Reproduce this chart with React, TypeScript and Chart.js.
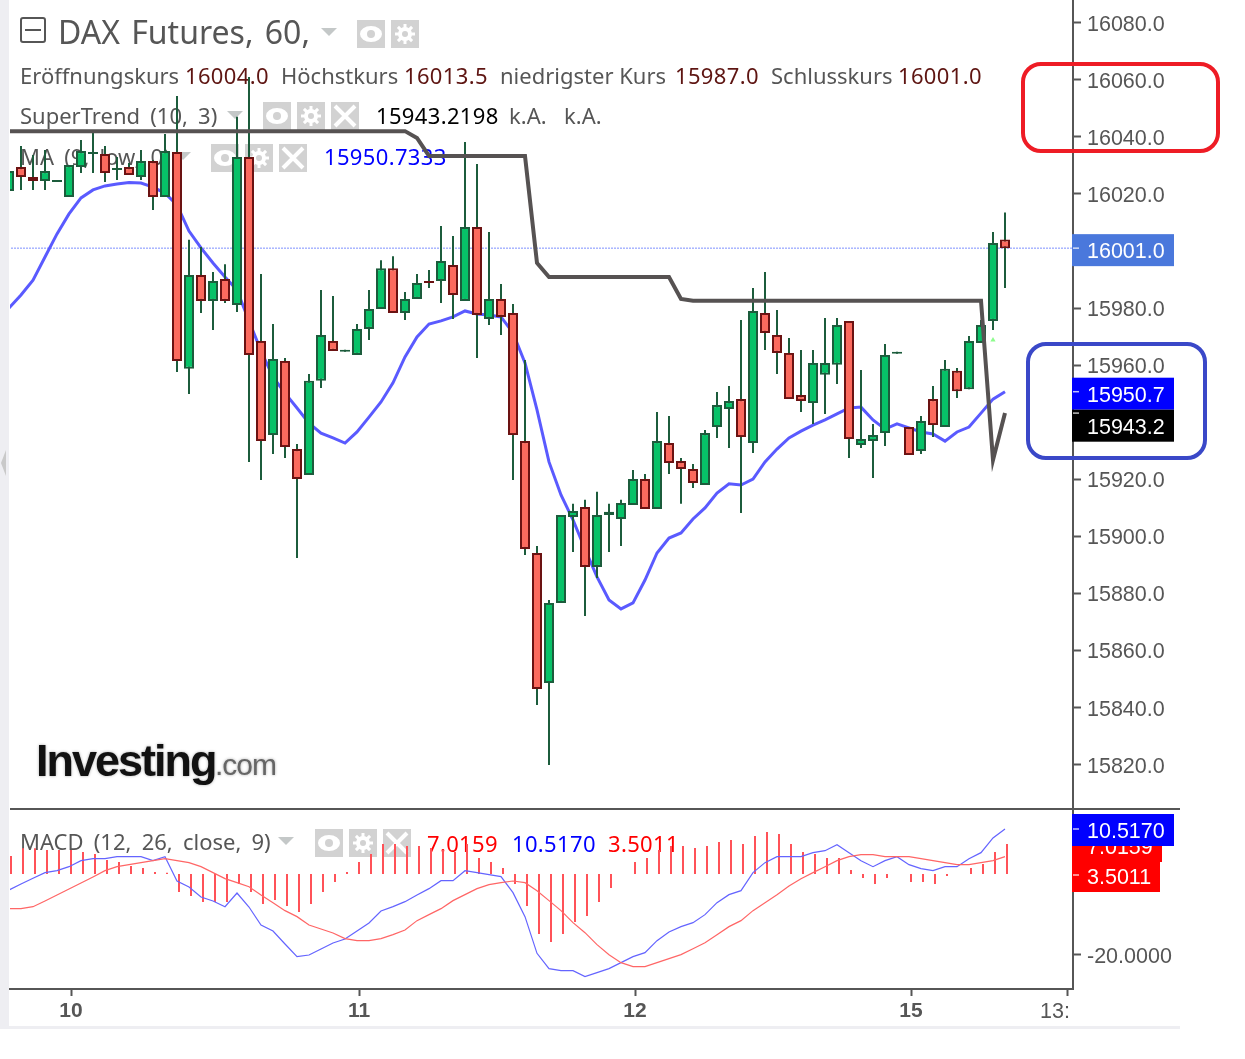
import { useEffect, useRef } from "react";
import { Chart, registerables } from "chart.js";

Chart.register(...registerables);

// candle values
const opens = [
  16021.0, 16029.4, 16025.9, 16024.5, 16024.2, 16018.9, 16029.4, 16034.0, 16034.0, 16028.4,
  16029.4, 16025.9, 16031.5, 16018.9, 16034.7, 15958.7, 15991.6, 15982.5, 15990.2, 15981.1,
  16032.9, 15968.5, 15935.5, 15961.5, 15930.6, 15921.5, 15954.5, 15968.5, 15964.7, 15963.6,
  15972.7, 15979.7, 15994.0, 15978.3, 15983.2, 15989.5, 15989.5, 15995.1, 15982.5, 16008.4,
  15976.2, 15983.2, 15978.3, 15933.4, 15894.2, 15848.6, 15876.7, 15906.8, 15910.3, 15889.3,
  15907.5, 15906.1, 15911.0, 15920.1, 15909.6, 15932.7, 15926.4, 15923.6, 15918.0, 15938.3,
  15944.6, 15948.1, 15932.7, 15978.3, 15970.6, 15964.3, 15949.5, 15946.7, 15956.6, 15960.1,
  15975.5, 15932.0, 15933.4, 15936.2, 15964.0, 15938.3, 15929.9, 15948.1, 15938.3, 15958.0,
  15951.6, 15967.8, 15975.5, 16004.0,
];
const highs = [
  16029.1, 16036.8, 16033.6, 16035.4, 16024.9, 16030.1, 16038.9, 16042.0, 16036.8, 16032.9,
  16030.8, 16035.4, 16031.9, 16041.0, 16054.3, 16003.9, 16001.4, 15992.6, 15995.4, 16047.0,
  16061.0, 15991.9, 15974.4, 15962.5, 15932.4, 15956.9, 15986.3, 15984.2, 15965.4, 15974.4,
  15986.3, 15996.8, 15998.2, 15985.6, 15991.9, 15993.3, 16008.8, 16005.3, 16038.2, 16030.5,
  16006.7, 15988.4, 15981.4, 15961.8, 15896.6, 15877.7, 15907.5, 15911.4, 15912.8, 15915.6,
  15911.4, 15912.8, 15923.3, 15921.9, 15943.6, 15942.2, 15927.5, 15925.4, 15937.3, 15950.6,
  15952.7, 15975.8, 15987.0, 15992.6, 15979.3, 15969.5, 15965.3, 15965.3, 15976.5, 15976.5,
  15975.5, 15958.3, 15939.4, 15967.4, 15964.7, 15938.3, 15942.2, 15952.7, 15961.8, 15959.0,
  15970.2, 15975.8, 16006.7, 16013.5,
];
const lows = [
  16020.3, 16021.4, 16021.4, 16021.4, 16024.2, 16018.9, 16027.3, 16027.3, 16024.2, 16024.9,
  16026.6, 16024.9, 16014.4, 16018.9, 15957.6, 15949.9, 15978.3, 15972.3, 15981.8, 15978.6,
  15926.1, 15919.8, 15928.9, 15927.5, 15892.4, 15921.5, 15952.0, 15965.0, 15964.7, 15963.6,
  15968.8, 15979.7, 15978.3, 15975.8, 15983.2, 15987.0, 15981.8, 15976.2, 15982.5, 15962.5,
  15974.1, 15970.6, 15919.8, 15893.5, 15840.9, 15819.9, 15876.7, 15894.5, 15872.1, 15885.4,
  15894.5, 15896.6, 15911.0, 15909.6, 15909.6, 15921.9, 15911.4, 15917.0, 15918.0, 15934.5,
  15931.0, 15908.2, 15929.2, 15965.3, 15956.9, 15948.1, 15943.6, 15939.4, 15942.9, 15953.4,
  15927.5, 15931.0, 15920.5, 15931.7, 15964.0, 15928.5, 15928.9, 15934.8, 15938.3, 15948.5,
  15951.6, 15967.8, 15972.3, 15987.0,
];
const closes = [
  16028.0, 16025.9, 16024.5, 16028.0, 16024.9, 16030.1, 16035.0, 16034.7, 16027.3, 16029.1,
  16026.6, 16031.5, 16018.9, 16035.0, 15961.5, 15991.6, 15982.5, 15989.5, 15982.5, 16032.9,
  15963.6, 15933.4, 15962.2, 15931.3, 15920.1, 15954.5, 15970.6, 15965.0, 15965.4, 15972.7,
  15979.7, 15994.0, 15978.3, 15983.2, 15988.8, 15988.8, 15996.5, 15984.6, 16008.4, 15977.6,
  15983.2, 15976.9, 15935.5, 15895.6, 15846.5, 15876.7, 15907.5, 15908.9, 15889.3, 15907.5,
  15908.6, 15911.7, 15920.1, 15909.6, 15933.4, 15925.7, 15923.6, 15918.7, 15936.2, 15946.0,
  15947.4, 15934.8, 15979.0, 15971.3, 15964.3, 15948.1, 15947.4, 15960.8, 15960.8, 15974.1,
  15934.1, 15934.1, 15935.5, 15963.6, 15964.7, 15928.5, 15940.4, 15939.0, 15958.7, 15950.9,
  15968.5, 15974.1, 16002.8, 16001.0,
];
const maLine = [
  15980.0, 15984.6, 15989.8, 15997.9, 16006.0, 16013.0, 16018.6, 16021.4, 16022.8, 16023.5,
  16024.0, 16023.8, 16022.4, 16020.3, 16016.1, 16007.0, 16001.1, 15995.8, 15990.9, 15986.3,
  15975.5, 15965.0, 15955.9, 15950.2, 15945.0, 15939.7, 15936.2, 15934.5, 15932.7, 15936.6,
  15941.8, 15947.1, 15953.8, 15962.9, 15969.9, 15974.4, 15975.5, 15976.9, 15979.0, 15977.9,
  15977.6, 15976.9, 15971.3, 15960.8, 15944.3, 15926.1, 15914.5, 15905.8, 15895.6, 15885.8,
  15877.7, 15874.6, 15876.7, 15884.7, 15894.2, 15899.4, 15901.2, 15906.1, 15910.0, 15915.2,
  15918.4, 15918.0, 15920.1, 15926.1, 15930.6, 15934.5, 15936.9, 15939.0, 15940.8, 15942.9,
  15945.0, 15945.3, 15940.8, 15937.6, 15939.4, 15938.0, 15936.6, 15935.9, 15933.4, 15936.6,
  15938.3, 15943.2, 15948.1, 15950.7,
];
const superTrend = [
  16042, 16042, 16042, 16042, 16042, 16042, 16042, 16042, 16042, 16042,
  16042, 16042, 16042, 16042, 16042, 16042, 16042, 16042, 16042, 16042,
  16042, 16042, 16042, 16042, 16042, 16042, 16042, 16042, 16042, 16042,
  16042, 16042, 16042, 16042, 16039.6, 16033.3, 16033.3, 16033.3, 16033.3, 16033.3,
  16033.3, 16033.3, 16033.3, 16033.3, 15995.8, 15990.9, 15990.9, 15990.9, 15990.9, 15990.9,
  15990.9, 15990.9, 15990.9, 15990.9, 15990.9, 15990.9, 15983.2, 15982.6, 15982.6, 15982.6,
  15982.6, 15982.6, 15982.6, 15982.6, 15982.6, 15982.6, 15982.6, 15982.6, 15982.6, 15982.6,
  15982.6, 15982.6, 15982.6, 15982.6, 15982.6, 15982.6, 15982.6, 15982.6, 15982.6, 15982.6,
  15982.6, 15982.6, 15926.8, 15943.2,
];
const macdLine = [
  -3.95, -2.47, -1.07, 0.33, 0.82, 1.81, 3.29, 3.79, 3.79, 4.28,
  4.28, 4.28, 3.29, 4.28, -1.73, -3.21, -5.68, -6.67, -8.07, -4.69,
  -8.15, -12.59, -14.07, -17.28, -20.41, -20.0, -18.52, -17.04, -16.05, -14.07,
  -12.1, -9.14, -8.07, -6.83, -5.19, -3.62, -1.65, -1.65, 0.82, 0.33,
  -0.16, -0.66, -4.61, -10.53, -19.59, -23.37, -23.87, -23.87, -25.35, -24.36,
  -23.37, -21.89, -20.41, -19.42, -16.46, -14.32, -13.0, -12.02, -10.04, -7.08,
  -5.1, -4.12, 0.33, 2.8, 4.28, 4.28, 4.28, 5.27, 5.76, 7.24,
  5.27, 3.29, 1.81, 3.29, 4.28, 2.3, 1.32, 0.82, 1.81, 1.81,
  3.79, 5.27, 8.89, 11.11,
];
const signalLine = [
  -8.56, -8.56, -8.07, -6.67, -5.19, -3.7, -2.22, -0.74, 0.82, 1.81,
  2.3, 2.8, 3.29, 3.79, 3.29, 2.8, 1.81, 0.33, -1.15, -2.14,
  -3.13, -5.19, -7.08, -9.05, -10.53, -12.59, -13.58, -14.57, -15.97, -16.46,
  -16.46, -15.97, -14.98, -13.83, -11.52, -10.04, -8.56, -6.58, -5.1, -3.62,
  -2.63, -2.14, -1.73, -2.14, -4.12, -6.58, -9.05, -12.02, -14.49, -17.45,
  -19.92, -21.89, -22.88, -22.88, -21.89, -20.91, -19.92, -18.44, -16.96, -14.98,
  -13.0, -11.52, -9.05, -7.08, -5.1, -2.96, -1.15, 0.33, 1.81, 3.29,
  4.28, 4.77, 4.77, 4.28, 4.28, 4.28, 3.79, 3.29, 2.8, 2.3,
  2.3, 2.8, 3.29, 4.28,
];
const histogram = [
  4.44, 6.35, 6.35, 5.93, 5.93, 5.93, 5.43, 4.94, 3.46, 2.96,
  1.98, 1.48, 0.49, 0.32, -4.44, -5.43, -6.91, -6.91, -6.91, -2.47,
  -4.44, -7.41, -6.42, -7.9, -9.38, -7.41, -4.44, -1.98, 0.49, 2.96,
  4.94, 7.41, 7.41, 6.91, 6.91, 6.42, 5.93, 5.43, 7.41, 3.95,
  2.96, 1.48, -2.47, -7.9, -14.81, -16.79, -14.81, -11.85, -10.37, -6.91,
  -3.46, 0, 2.96, 3.95, 5.93, 6.91, 6.91, 6.42, 6.91, 7.9,
  8.4, 7.41, 9.38, 10.37, 9.88, 7.41, 5.43, 4.94, 3.95, 3.95,
  0.99, -0.99, -2.47, -0.99, 0, -1.98, -1.98, -2.47, -0.49, 0,
  1.48, 2.47, 5.43, 7.41,
];
const priceTicks = [
  16080, 16060, 16040, 16020, 16000, 15980, 15960, 15940, 15920, 15900, 15880, 15860, 15840, 15820,
];
const macdTicks = [-20];
const dateTicks = [5, 29, 52, 75, 88];
const dateLabels = ["10", "11", "12", "15", ""];
const lastClose = 16001;
const buySignalBar = 82;
const buySignalPrice = 15968.8;

const GREEN = "#07c268";
const GREEN_DARK = "#1c5c3c";
const RED = "#fb6a5e";
const RED_DARK = "#6b1212";
const GREY = "#565656";
const SANS = '"Noto Sans"';
const ARIAL = '"Liberation Sans"';

// upper panel is drawn 2px left of the histogram in the original
const PRICE_SHIFT = -1 / 6;
const px = (i: number) => i + PRICE_SHIFT;

function caret(ctx: CanvasRenderingContext2D, x: number, y: number) {
  ctx.fillStyle = "#c4c8c8";
  ctx.beginPath();
  ctx.moveTo(x, y);
  ctx.lineTo(x + 16, y);
  ctx.lineTo(x + 8, y + 8);
  ctx.fill();
}

function tile(ctx: CanvasRenderingContext2D, x: number, y: number, kind: string) {
  ctx.fillStyle = "#d2d2d2";
  ctx.fillRect(x, y, 28, 28);
  const cx = x + 14;
  const cy = y + 14;
  ctx.strokeStyle = "#fff";
  ctx.fillStyle = "#fff";
  if (kind === "eye") {
    ctx.beginPath();
    ctx.ellipse(cx, cy, 11, 8, 0, 0, Math.PI * 2);
    ctx.fill();
    ctx.fillStyle = "#d2d2d2";
    ctx.beginPath();
    ctx.arc(cx, cy, 4, 0, Math.PI * 2);
    ctx.fill();
  } else if (kind === "gear") {
    ctx.lineWidth = 3;
    for (let a = 0; a < 4; a++) {
      const t = (a * Math.PI) / 4;
      ctx.beginPath();
      ctx.moveTo(cx - Math.cos(t) * 10, cy - Math.sin(t) * 10);
      ctx.lineTo(cx + Math.cos(t) * 10, cy + Math.sin(t) * 10);
      ctx.stroke();
    }
    ctx.beginPath();
    ctx.arc(cx, cy, 7, 0, Math.PI * 2);
    ctx.fill();
    ctx.fillStyle = "#d2d2d2";
    ctx.beginPath();
    ctx.arc(cx, cy, 3, 0, Math.PI * 2);
    ctx.fill();
  } else {
    ctx.lineWidth = 4;
    ctx.beginPath();
    ctx.moveTo(cx - 10, cy - 10);
    ctx.lineTo(cx + 10, cy + 10);
    ctx.moveTo(cx + 10, cy - 10);
    ctx.lineTo(cx - 10, cy + 10);
    ctx.stroke();
  }
}

function text(ctx: CanvasRenderingContext2D, s: string, x: number, y: number, color: string) {
  ctx.fillStyle = color;
  ctx.fillText(s, x, y);
}

// figures run a little wider than the font's own digits
function num(ctx: CanvasRenderingContext2D, s: string, x: number, y: number, color: string) {
  (ctx as any).letterSpacing = "0.35px";
  text(ctx, s, x, y, color);
  (ctx as any).letterSpacing = "0px";
}

// header rows sit behind the candles
const headerPlugin = {
  id: "header",
  beforeDatasetsDraw(chart: any) {
    const ctx = chart.ctx as CanvasRenderingContext2D;
    ctx.save();
    ctx.textBaseline = "middle";
    ctx.textAlign = "left";

    ctx.strokeStyle = GREY;
    ctx.lineWidth = 2;
    ctx.beginPath();
    ctx.roundRect(21, 18, 24, 24, 2);
    ctx.moveTo(25, 30);
    ctx.lineTo(41, 30);
    ctx.stroke();

    (ctx as any).wordSpacing = "3px";
    ctx.font = `32px ${SANS}`;
    text(ctx, "DAX Futures, 60,", 58, 35, GREY);
    caret(ctx, 321, 28);
    tile(ctx, 357, 20, "eye");
    tile(ctx, 391, 20, "gear");

    const dark = "#5e1512";
    (ctx as any).wordSpacing = "0px";
    ctx.font = `22px ${SANS}`;
    text(ctx, "Eröffnungskurs", 20, 78, GREY);
    num(ctx, "16004.0", 185, 78, dark);
    text(ctx, "Höchstkurs", 281, 78, GREY);
    num(ctx, "16013.5", 404, 78, dark);
    text(ctx, "niedrigster Kurs", 500, 78, GREY);
    num(ctx, "15987.0", 675, 78, dark);
    text(ctx, "Schlusskurs", 771, 78, GREY);
    num(ctx, "16001.0", 898, 78, dark);

    (ctx as any).wordSpacing = "4.5px";
    text(ctx, "SuperTrend (10, 3)", 20, 118, GREY);
    caret(ctx, 227, 111);
    tile(ctx, 263, 102, "eye");
    tile(ctx, 297, 102, "gear");
    tile(ctx, 331, 102, "x");
    num(ctx, "15943.2198", 376, 118, "#000");
    text(ctx, "k.A.", 509, 118, GREY);
    text(ctx, "k.A.", 564, 118, GREY);

    text(ctx, "MA (9, low, 0)", 20, 159, GREY);
    caret(ctx, 175, 152);
    tile(ctx, 211, 144, "eye");
    tile(ctx, 245, 144, "gear");
    tile(ctx, 279, 144, "x");
    num(ctx, "15950.7333", 324, 159, "#0000ff");

    text(ctx, "MACD (12, 26, close, 9)", 20, 844, GREY);
    caret(ctx, 278, 837);
    tile(ctx, 315, 829, "eye");
    tile(ctx, 349, 829, "gear");
    tile(ctx, 383, 829, "x");
    num(ctx, "7.0159", 427, 846, "#ff0000");
    num(ctx, "10.5170", 512, 846, "#0000ff");
    num(ctx, "3.5011", 608, 846, "#ff0000");
    (ctx as any).wordSpacing = "0px";

    ctx.shadowColor = "rgba(0,0,0,0.35)";
    ctx.shadowBlur = 3;
    ctx.font = `bold 45px ${ARIAL}`;
    (ctx as any).letterSpacing = "-2px";
    text(ctx, "Investing", 36, 764, "#111");
    ctx.font = `30px ${ARIAL}`;
    (ctx as any).letterSpacing = "-1px";
    text(ctx, ".com", 215, 767, "#666");
    ctx.restore();
  },
};

function tag(ctx: CanvasRenderingContext2D, label: string, tickY: number | null, top: number, w: number, bg: string) {
  ctx.fillStyle = bg;
  ctx.fillRect(1072, top, w, 32);
  if (tickY !== null) {
    ctx.strokeStyle = "rgba(255,255,255,0.75)";
    ctx.lineWidth = 1.5;
    ctx.beginPath();
    ctx.moveTo(1073, tickY);
    ctx.lineTo(1079, tickY);
    ctx.stroke();
  }
  ctx.fillStyle = "#fff";
  ctx.fillText(label, 1087, top + 18);
}

// divider, page edges, price tags, hand drawn rings
const overlayPlugin = {
  id: "overlay",
  beforeDraw(chart: any) {
    const ctx = chart.ctx as CanvasRenderingContext2D;
    ctx.save();
    ctx.fillStyle = "#eeeef2";
    ctx.fillRect(0, 0, 9, 1029);
    ctx.fillRect(0, 1026, 1180, 3);
    ctx.fillStyle = "#c9c9c9";
    ctx.beginPath();
    ctx.moveTo(6, 450);
    ctx.lineTo(1, 463);
    ctx.lineTo(6, 476);
    ctx.fill();
    ctx.restore();
  },
  afterDraw(chart: any) {
    const ctx = chart.ctx as CanvasRenderingContext2D;
    const { y, m, x } = chart.scales;
    ctx.save();
    ctx.strokeStyle = GREY;
    ctx.lineWidth = 2;
    ctx.beginPath();
    ctx.moveTo(chart.chartArea.left, y.bottom);
    ctx.lineTo(1180, y.bottom);
    ctx.stroke();

    ctx.textBaseline = "middle";
    ctx.textAlign = "left";
    ctx.font = `21.5px ${ARIAL}`;
    ctx.fillStyle = GREY;
    ctx.fillText("13:", x.getPixelForValue(88) - 27, 1012);

    const closeY = y.getPixelForValue(lastClose);
    tag(ctx, "16001.0", closeY, closeY - 14, 102, "#4a78dc");
    const maY = y.getPixelForValue(maLine[83]);
    tag(ctx, "15950.7", maY, maY - 14, 102, "#0000ff");
    tag(ctx, "15943.2", y.getPixelForValue(superTrend[83]), maY + 18, 102, "#000");

    const macdY = m.getPixelForValue(macdLine[83]);
    tag(ctx, "7.0159", null, macdY + 1, 90, "#ff0000");
    tag(ctx, "10.5170", macdY, macdY - 15, 102, "#0000ff");
    tag(ctx, "3.5011", macdY + 46, macdY + 31, 88, "#ff0000");

    ctx.lineWidth = 4;
    ctx.strokeStyle = "#ee1c25";
    ctx.beginPath();
    ctx.roundRect(1023, 64, 195, 87, 18);
    ctx.stroke();
    ctx.strokeStyle = "#3a48c8";
    ctx.beginPath();
    ctx.roundRect(1028, 344, 177, 114, 18);
    ctx.stroke();
    ctx.restore();
  },
};

export default function App() {
  const canvasRef = useRef<HTMLCanvasElement>(null);

  useEffect(() => {
    if (!canvasRef.current) return;
    document.body.style.margin = "0";
    const chart = new Chart(canvasRef.current, {
      type: "bar",
      data: {
        datasets: [
          {
            type: "line",
            label: "SuperTrend",
            yAxisID: "y",
            data: superTrend.map((v, i) => ({ x: px(i), y: v })),
            borderColor: "#565252",
            borderWidth: 4,
            pointRadius: 0,
            tension: 0,
            order: 0,
          },
          {
            type: "bar",
            label: "Body",
            yAxisID: "y",
            data: opens.map((v, i) => ({ x: px(i), y: [v, closes[i]] })),
            backgroundColor: opens.map((v, i) => (closes[i] >= v ? GREEN : RED)),
            borderColor: opens.map((v, i) => (closes[i] >= v ? GREEN_DARK : RED_DARK)),
            borderWidth: 2,
            borderSkipped: false,
            inflateAmount: 0,
            barThickness: 10,
            grouped: false,
            order: 1,
          },
          {
            type: "bar",
            label: "Wick",
            yAxisID: "y",
            data: lows.map((v, i) => ({ x: px(i), y: [v, highs[i]] })),
            backgroundColor: GREEN_DARK,
            inflateAmount: 0,
            barThickness: 2,
            grouped: false,
            order: 2,
          },
          {
            type: "line",
            label: "MA",
            yAxisID: "y",
            data: maLine.map((v, i) => ({ x: px(i), y: v })),
            borderColor: "#5a5aff",
            borderWidth: 3,
            pointRadius: 0,
            tension: 0,
            order: 3,
          },
          {
            type: "line",
            label: "Last",
            yAxisID: "y",
            data: [
              { x: -1, y: lastClose },
              { x: 89, y: lastClose },
            ],
            borderColor: "#7d90ff",
            borderWidth: 1,
            borderDash: [2, 1],
            pointRadius: 0,
            order: 4,
          },
          {
            type: "scatter",
            label: "Buy",
            yAxisID: "y",
            data: [{ x: px(buySignalBar), y: buySignalPrice }],
            backgroundColor: "#8dfc8d",
            borderWidth: 0,
            pointStyle: "triangle",
            pointRadius: 3,
            order: 4,
          },
          {
            type: "line",
            label: "Signal",
            yAxisID: "m",
            data: signalLine.map((v, i) => ({ x: px(i), y: v })),
            borderColor: "#ff6666",
            borderWidth: 1.2,
            pointRadius: 0,
            tension: 0,
            order: 0,
          },
          {
            type: "line",
            label: "MACD",
            yAxisID: "m",
            data: macdLine.map((v, i) => ({ x: px(i), y: v })),
            borderColor: "#6464ff",
            borderWidth: 1.2,
            pointRadius: 0,
            tension: 0,
            order: 0,
          },
          {
            type: "bar",
            label: "Histogram",
            yAxisID: "m",
            data: histogram.map((v, i) => ({ x: i, y: v })),
            backgroundColor: "#ff5258",
            inflateAmount: 0,
            barThickness: 2,
            grouped: false,
            order: 5,
          },
        ],
      } as any,
      plugins: [headerPlugin, overlayPlugin],
      options: {
        animation: false,
        responsive: false,
        devicePixelRatio: 1,
        events: [],
        layout: { autoPadding: false, padding: { left: 10, right: 0, top: 0, bottom: 30 } },
        plugins: { legend: { display: false }, tooltip: { enabled: false } },
        scales: {
          x: {
            type: "linear",
            position: "bottom",
            offset: false,
            min: -1 / 12,
            max: 88.5,
            afterBuildTicks: (s: any) => {
              s.ticks = dateTicks.map((value) => ({ value }));
            },
            afterFit: (s: any) => {
              s.height = 40;
              s.paddingLeft = 0;
              s.paddingRight = 0;
            },
            border: { color: GREY, width: 2 },
            grid: { offset: false, drawOnChartArea: false, tickLength: 7, tickColor: GREY, tickWidth: 2 },
            ticks: {
              autoSkip: false,
              maxRotation: 0,
              padding: 3,
              color: GREY,
              font: { family: ARIAL, size: 21, weight: "bold" },
              callback: (v: any) => dateLabels[dateTicks.indexOf(v)],
            },
          },
          y: {
            type: "linear",
            position: "right",
            stack: "panes",
            stackWeight: 809,
            min: 15804.48,
            max: 16087.95,
            afterBuildTicks: (s: any) => {
              s.ticks = priceTicks.map((value) => ({ value }));
            },
            afterFit: (s: any) => {
              s.width = 172;
              s.paddingTop = 0;
              s.paddingBottom = 0;
            },
            border: { color: GREY, width: 2 },
            grid: { drawOnChartArea: false, tickLength: 8, tickColor: GREY, tickWidth: 2 },
            ticks: {
              autoSkip: false,
              padding: 6,
              labelOffset: 2,
              color: GREY,
              font: { family: ARIAL, size: 21.5 },
              callback: (v: any) => Number(v).toFixed(1),
            },
          },
          m: {
            type: "linear",
            position: "right",
            stack: "panes",
            stackWeight: 180,
            min: -28.4,
            max: 16.05,
            afterBuildTicks: (s: any) => {
              s.ticks = macdTicks.map((value) => ({ value }));
            },
            afterFit: (s: any) => {
              s.width = 172;
              s.paddingTop = 0;
              s.paddingBottom = 0;
            },
            border: { color: GREY, width: 2 },
            grid: { drawOnChartArea: false, tickLength: 8, tickColor: GREY, tickWidth: 2 },
            ticks: {
              autoSkip: false,
              padding: 6,
              labelOffset: 2,
              color: GREY,
              font: { family: ARIAL, size: 21.5 },
              callback: (v: any) => Number(v).toFixed(4),
            },
          },
        },
      } as any,
    });
    return () => chart.destroy();
  }, []);

  return <canvas ref={canvasRef} width={1245} height={1059} style={{ display: "block" }} />;
}
